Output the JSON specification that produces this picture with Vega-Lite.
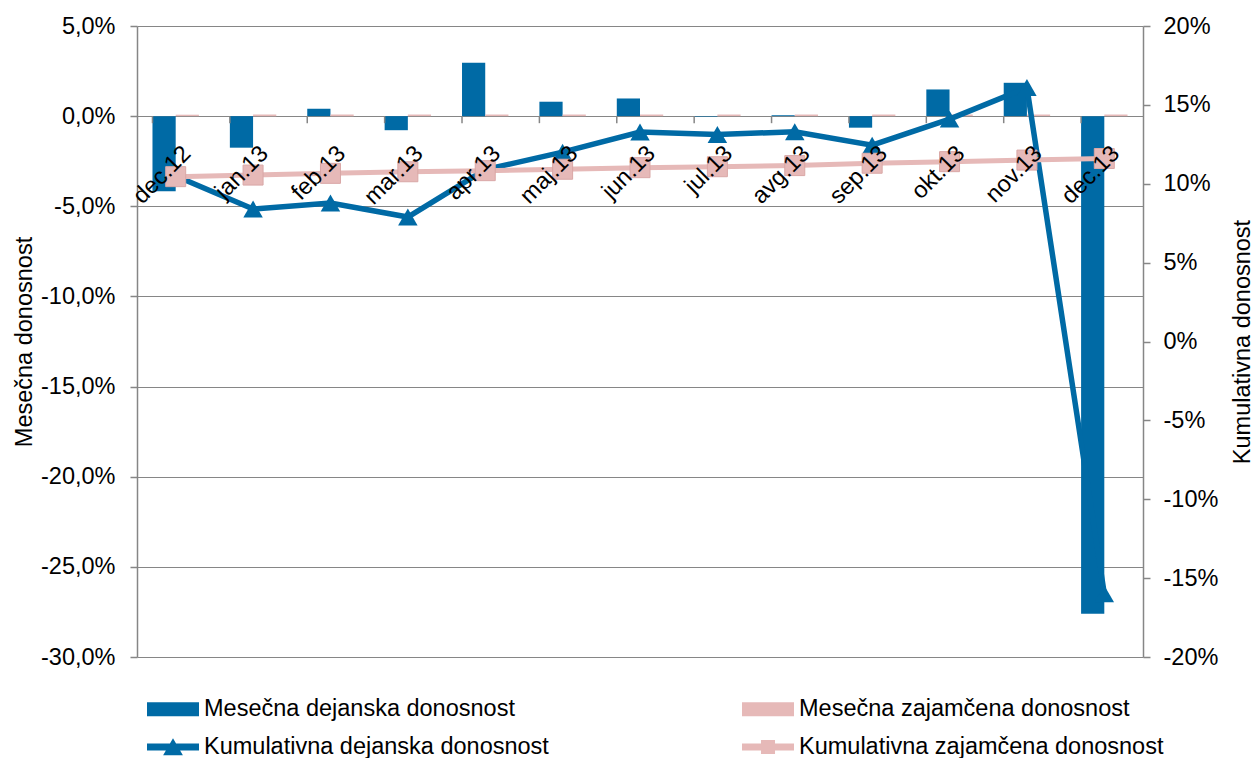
{
  "$schema": "https://vega.github.io/schema/vega-lite/v6.json",
  "width": 1006,
  "height": 631,
  "autosize": {"type": "none"},
  "padding": {"left": 137, "top": 26, "right": 112, "bottom": 101},
  "config": {
    "font": "Liberation Sans",
    "view": {"stroke": null},
    "axis": {
      "labelFont": "Liberation Sans",
      "titleFont": "Liberation Sans",
      "labelFontSize": 23.5,
      "titleFontSize": 23.5,
      "labelColor": "#000000",
      "titleColor": "#000000",
      "titleFontWeight": "normal",
      "domainColor": "#868686",
      "tickColor": "#868686",
      "gridColor": "#868686",
      "domainWidth": 1.5,
      "tickWidth": 1.5
    }
  },
  "data": {
    "values": [
      {"month": "dec.12", "series": "Mesečna dejanska donosnost", "kind": "m", "value": -4.16},
      {"month": "jan.13", "series": "Mesečna dejanska donosnost", "kind": "m", "value": -1.75},
      {"month": "feb.13", "series": "Mesečna dejanska donosnost", "kind": "m", "value": 0.41},
      {"month": "mar.13", "series": "Mesečna dejanska donosnost", "kind": "m", "value": -0.78},
      {"month": "apr.13", "series": "Mesečna dejanska donosnost", "kind": "m", "value": 2.96},
      {"month": "maj.13", "series": "Mesečna dejanska donosnost", "kind": "m", "value": 0.80},
      {"month": "jun.13", "series": "Mesečna dejanska donosnost", "kind": "m", "value": 0.98},
      {"month": "jul.13", "series": "Mesečna dejanska donosnost", "kind": "m", "value": -0.03},
      {"month": "avg.13", "series": "Mesečna dejanska donosnost", "kind": "m", "value": 0.05},
      {"month": "sep.13", "series": "Mesečna dejanska donosnost", "kind": "m", "value": -0.64},
      {"month": "okt.13", "series": "Mesečna dejanska donosnost", "kind": "m", "value": 1.48},
      {"month": "nov.13", "series": "Mesečna dejanska donosnost", "kind": "m", "value": 1.85},
      {"month": "dec.13", "series": "Mesečna dejanska donosnost", "kind": "m", "value": -27.6},
      {"month": "dec.12", "series": "Mesečna zajamčena donosnost", "kind": "m", "value": 0.08},
      {"month": "jan.13", "series": "Mesečna zajamčena donosnost", "kind": "m", "value": 0.09},
      {"month": "feb.13", "series": "Mesečna zajamčena donosnost", "kind": "m", "value": 0.09},
      {"month": "mar.13", "series": "Mesečna zajamčena donosnost", "kind": "m", "value": 0.09},
      {"month": "apr.13", "series": "Mesečna zajamčena donosnost", "kind": "m", "value": 0.09},
      {"month": "maj.13", "series": "Mesečna zajamčena donosnost", "kind": "m", "value": 0.09},
      {"month": "jun.13", "series": "Mesečna zajamčena donosnost", "kind": "m", "value": 0.09},
      {"month": "jul.13", "series": "Mesečna zajamčena donosnost", "kind": "m", "value": 0.09},
      {"month": "avg.13", "series": "Mesečna zajamčena donosnost", "kind": "m", "value": 0.09},
      {"month": "sep.13", "series": "Mesečna zajamčena donosnost", "kind": "m", "value": 0.09},
      {"month": "okt.13", "series": "Mesečna zajamčena donosnost", "kind": "m", "value": 0.09},
      {"month": "nov.13", "series": "Mesečna zajamčena donosnost", "kind": "m", "value": 0.09},
      {"month": "dec.13", "series": "Mesečna zajamčena donosnost", "kind": "m", "value": 0.09},
      {"month": "dec.12", "series": "Kumulativna dejanska donosnost", "kind": "c", "value": 10.49},
      {"month": "jan.13", "series": "Kumulativna dejanska donosnost", "kind": "c", "value": 8.40},
      {"month": "feb.13", "series": "Kumulativna dejanska donosnost", "kind": "c", "value": 8.78},
      {"month": "mar.13", "series": "Kumulativna dejanska donosnost", "kind": "c", "value": 7.89},
      {"month": "apr.13", "series": "Kumulativna dejanska donosnost", "kind": "c", "value": 10.9},
      {"month": "maj.13", "series": "Kumulativna dejanska donosnost", "kind": "c", "value": 12.0},
      {"month": "jun.13", "series": "Kumulativna dejanska donosnost", "kind": "c", "value": 13.28},
      {"month": "jul.13", "series": "Kumulativna dejanska donosnost", "kind": "c", "value": 13.12},
      {"month": "avg.13", "series": "Kumulativna dejanska donosnost", "kind": "c", "value": 13.3},
      {"month": "sep.13", "series": "Kumulativna dejanska donosnost", "kind": "c", "value": 12.45},
      {"month": "okt.13", "series": "Kumulativna dejanska donosnost", "kind": "c", "value": 14.1},
      {"month": "nov.13", "series": "Kumulativna dejanska donosnost", "kind": "c", "value": 16.1},
      {"month": "dec.13", "series": "Kumulativna dejanska donosnost", "kind": "c", "value": -16.0},
      {"month": "dec.12", "series": "Kumulativna zajamčena donosnost", "kind": "c", "value": 10.45},
      {"month": "jan.13", "series": "Kumulativna zajamčena donosnost", "kind": "c", "value": 10.55},
      {"month": "feb.13", "series": "Kumulativna zajamčena donosnost", "kind": "c", "value": 10.66},
      {"month": "mar.13", "series": "Kumulativna zajamčena donosnost", "kind": "c", "value": 10.76},
      {"month": "apr.13", "series": "Kumulativna zajamčena donosnost", "kind": "c", "value": 10.83},
      {"month": "maj.13", "series": "Kumulativna zajamčena donosnost", "kind": "c", "value": 10.92},
      {"month": "jun.13", "series": "Kumulativna zajamčena donosnost", "kind": "c", "value": 11.02},
      {"month": "jul.13", "series": "Kumulativna zajamčena donosnost", "kind": "c", "value": 11.08},
      {"month": "avg.13", "series": "Kumulativna zajamčena donosnost", "kind": "c", "value": 11.15},
      {"month": "sep.13", "series": "Kumulativna zajamčena donosnost", "kind": "c", "value": 11.3},
      {"month": "okt.13", "series": "Kumulativna zajamčena donosnost", "kind": "c", "value": 11.4},
      {"month": "nov.13", "series": "Kumulativna zajamčena donosnost", "kind": "c", "value": 11.5},
      {"month": "dec.13", "series": "Kumulativna zajamčena donosnost", "kind": "c", "value": 11.6}
    ]
  },
  "encoding": {
    "x": {
      "field": "month", "type": "ordinal",
      "scale": {"domain": ["dec.12","jan.13","feb.13","mar.13","apr.13","maj.13","jun.13","jul.13","avg.13","sep.13","okt.13","nov.13","dec.13"], "paddingInner": 0.4, "paddingOuter": 0.2},
      "axis": null
    }
  },
  "layer": [
    {
      "layer": [
        {
          "transform": [{"filter": "datum.kind == 'm'"}],
          "mark": {"type": "bar"},
          "encoding": {
            "xOffset": {"field": "series", "type": "nominal", "scale": {"domain": ["Mesečna dejanska donosnost", "Mesečna zajamčena donosnost"]}},
            "y": {
              "field": "value", "type": "quantitative",
              "scale": {"domain": [-30, 5], "nice": false, "zero": false},
              "axis": {"title": "Mesečna donosnost", "orient": "left", "values": [-30,-25,-20,-15,-10,-5,0,5], "labelExpr": "replace(replace(format(datum.value,'.1f'),'.',','),'\u2212','-') + '%'", "grid": true, "gridWidth": 1.2, "tickSize": 7, "labelPadding": 15, "titlePadding": 4}
            },
            "color": {
              "field": "series", "type": "nominal",
              "scale": {"domain": ["Mesečna dejanska donosnost", "Kumulativna dejanska donosnost", "Mesečna zajamčena donosnost", "Kumulativna zajamčena donosnost"], "range": ["#006AA5", "#006AA5", "#E6B9B8", "#E6B9B8"]},
              "legend": {
                "title": null, "orient": "none", "legendX": 10, "legendY": 657,
                "columns": 2, "columnPadding": 193, "rowPadding": -1,
                "labelFont": "Liberation Sans", "labelFontSize": 23.5, "labelColor": "#000000", "labelLimit": 0, "labelOffset": 5,
                "symbolSize": 2704,
                "encode": {
                  "symbols": {
                    "update": {
                      "shape": {"signal": "indexof(datum.value,'Kumulativna dejanska') == 0 ? 'M-1,-0.13H1V0.13H-1Z M-0.38,0.32L0,-0.34L0.38,0.32Z' : indexof(datum.value,'Kumulativna zajam') == 0 ? 'M-1,-0.13H1V0.13H-1Z M-0.27,-0.27H0.27V0.27H-0.27Z' : 'M-1,-0.27H1V0.27H-1Z'"},
                      "fill": {"signal": "indexof(datum.value,'dejanska') >= 0 ? '#006AA5' : '#E6B9B8'"},
                      "stroke": {"value": "transparent"},
                      "strokeWidth": {"value": 0},
                      "opacity": {"value": 1}
                    }
                  }
                }
              }
            }
          }
        },
        {
          "transform": [{"filter": "datum.kind == 'm' && datum.series == 'Mesečna dejanska donosnost'"}],
          "mark": {"type": "rule", "color": "#868686", "strokeWidth": 1.5},
          "encoding": {
            "x": {"field": "month", "type": "ordinal", "bandPosition": 0, "axis": null},
            "y": {"datum": 0},
            "y2": {"datum": -0.39}
          }
        }
      ]
    },
    {
      "layer": [
        {
          "transform": [{"filter": "datum.series == 'Kumulativna dejanska donosnost'"}],
          "mark": {"type": "line", "strokeWidth": 5.5},
          "encoding": {
            "y": {
              "field": "value", "type": "quantitative",
              "scale": {"domain": [-20, 20], "nice": false, "zero": false},
              "axis": {"title": "Kumulativna donosnost", "orient": "right", "values": [-20,-15,-10,-5,0,5,10,15,20], "labelExpr": "replace(format(datum.value,'d'),'\u2212','-') + '%'", "grid": false, "tickSize": 7, "labelPadding": 13, "titlePadding": 37, "titleAngle": 270}
            },
            "color": {"field": "series", "type": "nominal"}
          }
        },
        {
          "transform": [{"filter": "datum.series == 'Kumulativna dejanska donosnost'"}],
          "mark": {"type": "point", "shape": "triangle-up", "filled": true, "size": 380, "opacity": 1},
          "encoding": {
            "y": {"field": "value", "type": "quantitative"},
            "color": {"field": "series", "type": "nominal"}
          }
        },
        {
          "transform": [{"filter": "datum.series == 'Kumulativna zajamčena donosnost'"}],
          "mark": {"type": "line", "strokeWidth": 5},
          "encoding": {
            "y": {"field": "value", "type": "quantitative"},
            "color": {"field": "series", "type": "nominal"}
          }
        },
        {
          "transform": [{"filter": "datum.series == 'Kumulativna zajamčena donosnost'"}],
          "mark": {"type": "point", "shape": "square", "filled": true, "size": 400, "opacity": 1, "stroke": "#D9A7A6", "strokeWidth": 1},
          "encoding": {
            "y": {"field": "value", "type": "quantitative"},
            "color": {"field": "series", "type": "nominal"}
          }
        },
        {
          "transform": [{"filter": "datum.series == 'Kumulativna zajamčena donosnost'"}],
          "mark": {"type": "text", "angle": -45, "align": "right", "baseline": "top", "dx": 2.1, "dy": 2.1, "font": "Liberation Sans", "fontSize": 23.5, "color": "#000000"},
          "encoding": {
            "y": {"datum": 12.67},
            "text": {"field": "month"}
          }
        }
      ]
    }
  ],
  "resolve": {"scale": {"y": "independent"}}
}
